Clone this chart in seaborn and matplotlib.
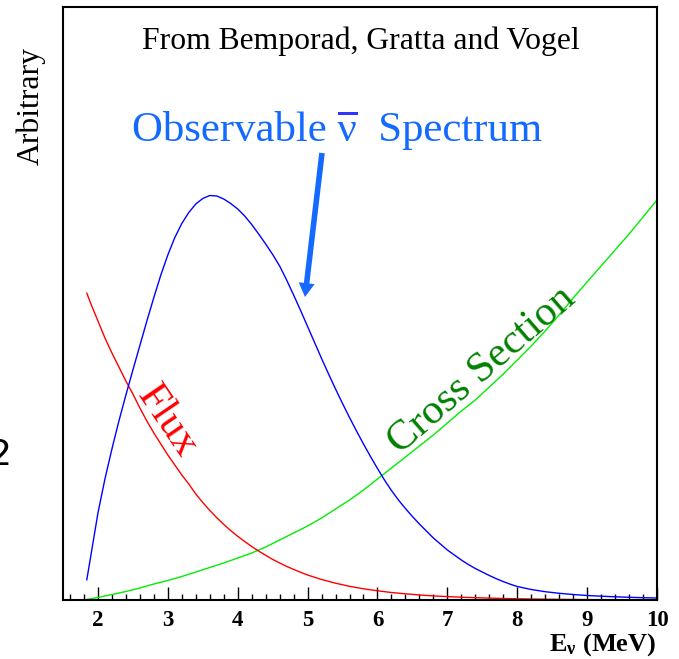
import matplotlib
matplotlib.use("Agg")
import numpy as np
import pandas as pd
import seaborn as sns
import matplotlib.pyplot as plt
from matplotlib.ticker import MultipleLocator
from matplotlib.patches import Rectangle

# ---- data (arbitrary units) ----
energy_spec = [1.84, 1.9, 2.0, 2.1, 2.2, 2.3, 2.4, 2.5, 2.6, 2.7, 2.8, 2.9, 3.0, 3.1, 3.2,
               3.3, 3.4, 3.5, 3.6, 3.7, 3.8, 3.9, 4.0, 4.1, 4.2, 4.3, 4.4, 4.5, 4.6, 4.7,
               4.8, 4.9, 5.0, 5.1, 5.2, 5.3, 5.4, 5.5, 5.6, 5.7, 5.8, 5.9, 6.0, 6.1, 6.2,
               6.3, 6.4, 6.5, 6.6, 6.7, 6.8, 6.9, 7.0, 7.1, 7.2, 7.3, 7.4, 7.5, 7.6, 7.7,
               7.8, 7.9, 8.0, 8.2, 8.4, 8.6, 8.8, 9.0, 9.2, 9.4, 9.6, 9.8, 10.0]
spectrum = [20, 45, 87, 121, 151, 179, 205, 230, 254.5, 279, 302.5, 325, 345, 362.5, 376.5,
            387.5, 396, 401.5, 404.5, 404, 401, 396.5, 391, 384, 375.5, 366, 356, 345.5, 334, 320,
            305, 289.5, 273.5, 257.5, 241.5, 226, 211, 196.5, 182.5, 169, 156, 143.5, 131.5, 120, 109.5,
            100, 91.5, 83.5, 76, 69, 62, 56, 50, 45, 40, 35.5, 31.5, 28, 24.5, 21.3,
            18.4, 15.8, 13.5, 10.5, 8.3, 6.7, 5.5, 4.5, 3.8, 3.2, 2.7, 2.3, 2.0]

energy_flux = [1.84, 1.9, 2.0, 2.1, 2.2, 2.3, 2.4, 2.5, 2.6, 2.7, 2.8, 2.9, 3.0, 3.1, 3.2,
               3.3, 3.4, 3.5, 3.6, 3.7, 3.8, 3.9, 4.0, 4.1, 4.2, 4.3, 4.4, 4.5, 4.6, 4.7,
               4.8, 4.9, 5.0, 5.2, 5.4, 5.6, 5.8, 6.0, 6.2, 6.4, 6.6, 6.8, 7.0, 7.2, 7.4,
               7.6, 7.8, 8.0, 8.2, 8.4, 8.6, 8.8, 9.0, 9.2, 9.4, 9.6, 9.8, 10.0]
flux = [307, 296, 279, 262, 247, 233, 219, 206, 192, 179, 167, 156, 145, 135, 125,
        116, 106, 97.5, 89.6, 82.3, 75.6, 69.4, 63.7, 58.5, 53.5, 48.9, 44.7, 40.6, 37, 33.6,
        30.6, 27.7, 25, 20.5, 16.8, 13.7, 11.2, 9.2, 7.5, 6.2, 5.05, 4.1, 3.4, 2.8, 2.3,
        1.9, 1.5, 1.2, 1.0, 0.8, 0.65, 0.5, 0.4, 0.33, 0.27, 0.22, 0.18, 0.15]

energy_xs = [1.8, 2.0, 2.2, 2.4, 2.6, 2.8, 3.0, 3.2, 3.4, 3.6, 3.8, 4.0, 4.2, 4.4,
             4.6, 4.8, 5.0, 5.2, 5.4, 5.6, 5.8, 6.0, 6.2, 6.4, 6.6, 6.8, 7.0, 7.2, 7.4,
             7.6, 7.8, 8.0, 8.2, 8.4, 8.6, 8.8, 9.0, 9.2, 9.4, 9.6, 9.8, 10.0]
cross_section = [0.0, 2.5, 5.5, 8.5, 12, 16, 19.5, 23.5, 28, 32.5, 37, 42, 47, 53,
                 60, 67, 74, 82, 91, 100, 110, 121, 132, 143, 154, 165, 177, 189, 200,
                 213, 226, 240, 254, 269, 285, 302, 318, 334, 350, 366, 383, 400]

xticks = [2, 3, 4, 5, 6, 7, 8, 9, 10]

df = pd.concat([
    pd.DataFrame({"E": energy_xs, "val": cross_section, "curve": "xs"}),
    pd.DataFrame({"E": energy_flux, "val": flux, "curve": "flux"}),
    pd.DataFrame({"E": energy_spec, "val": spectrum, "curve": "spectrum"}),
], ignore_index=True)

sns.set_theme(style="white", context="notebook")
plt.rcParams["font.family"] = ["Liberation Serif", "DejaVu Serif"]
plt.rcParams["mathtext.fontset"] = "custom"
plt.rcParams["mathtext.rm"] = "Liberation Serif:bold"
plt.rcParams["mathtext.it"] = "Liberation Serif:bold"
plt.rcParams["mathtext.bf"] = "Liberation Serif:bold"
plt.rcParams["mathtext.default"] = "bf"
plt.rcParams["lines.solid_joinstyle"] = "round"

W, H = 679, 659
fig = plt.figure(figsize=(W / 100, H / 100), dpi=100)
ax = fig.add_axes([63 / W, 59 / H, 594 / W, 593 / H])

sns.lineplot(data=df, x="E", y="val", hue="curve", sort=False,
             palette={"spectrum": "#0000ff", "flux": "#ff0000", "xs": "#00ee00"},
             hue_order=["xs", "flux", "spectrum"],
             linewidth=1.0, legend=False, ax=ax)

ax.set_xlim(1.5, 10)
ax.set_ylim(0, 593)
ax.set_xticks(xticks)
ax.set_xticklabels([str(t) for t in xticks], fontweight="bold", fontsize=16.5)
ax.xaxis.set_minor_locator(MultipleLocator(0.2))
ax.set_yticks([])
ax.tick_params(axis="x", which="major", direction="in", length=9.5, width=1.0,
               bottom=True, top=False, pad=7, colors="black")
ax.tick_params(axis="x", which="minor", direction="in", length=4.5, width=1.0,
               bottom=True, top=False, colors="black")
ax.set_xlabel("")
ax.set_ylabel("")
for s in ax.spines.values():
    s.set_visible(True)
    s.set_color("black")
    s.set_linewidth(1.5)

def fp(x, y):
    """figure-pixel (top-left origin) to figure fraction"""
    return x / W, (H - y) / H

# title text
fig.text(*fp(361, 49.5), "From Bemporad, Gratta and Vogel", ha="center",
         va="baseline", fontsize=22.8, color="black")
# y label
fig.text(*fp(31, 106), "Arbitrary", rotation=90, ha="center", va="center",
         fontsize=22.8, color="black")
# x label
fig.text(*fp(656, 651), r"E$_{\nu}$ (MeV)", ha="right", va="baseline",
         fontsize=19, fontweight="bold", color="black")
# stray "2"
fig.text(*fp(11, 455), "2", ha="right", va="center", fontsize=26,
         family="DejaVu Sans", color="black")

# curve labels
fig.text(*fp(337.5, 141), "Observable ν  Spectrum", ha="center", va="baseline",
         fontsize=30.8, color="#1469ff")
fig.patches.append(Rectangle(fp(338, 115), 20 / W, 3.2 / H, transform=fig.transFigure,
                             facecolor="#3333ff", edgecolor="none", figure=fig))
fig.text(*fp(167, 421), "Flux", rotation=-55.7, rotation_mode="anchor",
         ha="center", va="center", fontsize=30.5, color="#ff0000")
fig.text(*fp(482, 370), "Cross Section", rotation=41, rotation_mode="anchor",
         ha="center", va="center", fontsize=30.5, color="#008000")

# arrow
ax.annotate("", xy=(305, H - 297), xycoords="figure pixels",
            xytext=(322, H - 153), textcoords="figure pixels",
            arrowprops=dict(width=4.0, headwidth=11.5, headlength=10,
                            facecolor="#1469ff", edgecolor="none", shrink=0))

fig.savefig("out.png", dpi=100)
